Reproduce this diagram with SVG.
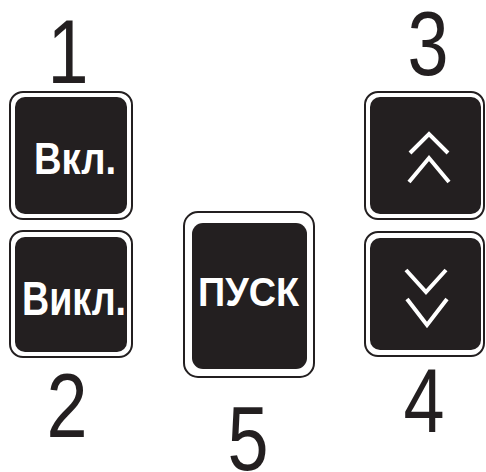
<svg xmlns="http://www.w3.org/2000/svg" width="486" height="472" viewBox="0 0 486 472">
  <style>
    .frame { fill: #ffffff; stroke: #231f20; stroke-width: 2; }
    .key { fill: #231f20; }
    .label { fill: #ffffff; font-family: "Liberation Sans", Arial, sans-serif; font-weight: bold; text-anchor: middle; }
    .num { fill: #231f20; font-family: "Liberation Sans", Arial, sans-serif; font-size: 90px; text-anchor: middle; }
    .chev { fill: none; stroke: #ffffff; stroke-width: 4; stroke-linejoin: miter; stroke-linecap: butt; }
  </style>

  <!-- Button 1: on -->
  <g id="btn-on">
    <rect class="frame" x="10" y="92" width="122" height="127" rx="13"/>
    <rect class="key" x="15" y="97" width="112" height="117" rx="10"/>
    <text class="label" x="75" y="174" font-size="45" textLength="82" lengthAdjust="spacingAndGlyphs">Вкл.</text>
    <text class="num" transform="translate(68 83) scale(0.82 1)" x="0" y="0">1</text>
  </g>

  <!-- Button 2: off -->
  <g id="btn-off">
    <rect class="frame" x="10" y="231" width="122" height="126" rx="13"/>
    <rect class="key" x="15" y="237" width="112" height="115" rx="10"/>
    <text class="label" x="74" y="315" font-size="48" textLength="104" lengthAdjust="spacingAndGlyphs">Викл.</text>
    <text class="num" transform="translate(67 437) scale(0.82 1)" x="0" y="0">2</text>
  </g>

  <!-- Button 5: start -->
  <g id="btn-start">
    <rect class="frame" x="184" y="212" width="130" height="165" rx="14"/>
    <rect class="key" x="192" y="223" width="115" height="146" rx="11"/>
    <text class="label" x="248.5" y="306" font-size="41" textLength="101" lengthAdjust="spacingAndGlyphs">ПУСК</text>
    <text class="num" transform="translate(248 470) scale(0.82 1)" x="0" y="0">5</text>
  </g>

  <!-- Button 3: up -->
  <g id="btn-up">
    <rect class="frame" x="365" y="92" width="119" height="127" rx="13"/>
    <rect class="key" x="370" y="97" width="111" height="117" rx="10"/>
    <polyline class="chev" points="410,153 429,134 448,153"/>
    <polyline class="chev" points="409,182 429,158 449,182"/>
    <text class="num" transform="translate(428 75) scale(0.82 1)" x="0" y="0">3</text>
  </g>

  <!-- Button 4: down -->
  <g id="btn-down">
    <rect class="frame" x="365" y="232" width="119" height="124" rx="13"/>
    <rect class="key" x="370" y="238" width="111" height="112" rx="10"/>
    <polyline class="chev" points="406,270 426,292 446,270"/>
    <polyline class="chev" points="407,299 427,325 447,299"/>
    <text class="num" transform="translate(424 432) scale(0.82 1)" x="0" y="0">4</text>
  </g>

  <g id="connectors"/>
</svg>
